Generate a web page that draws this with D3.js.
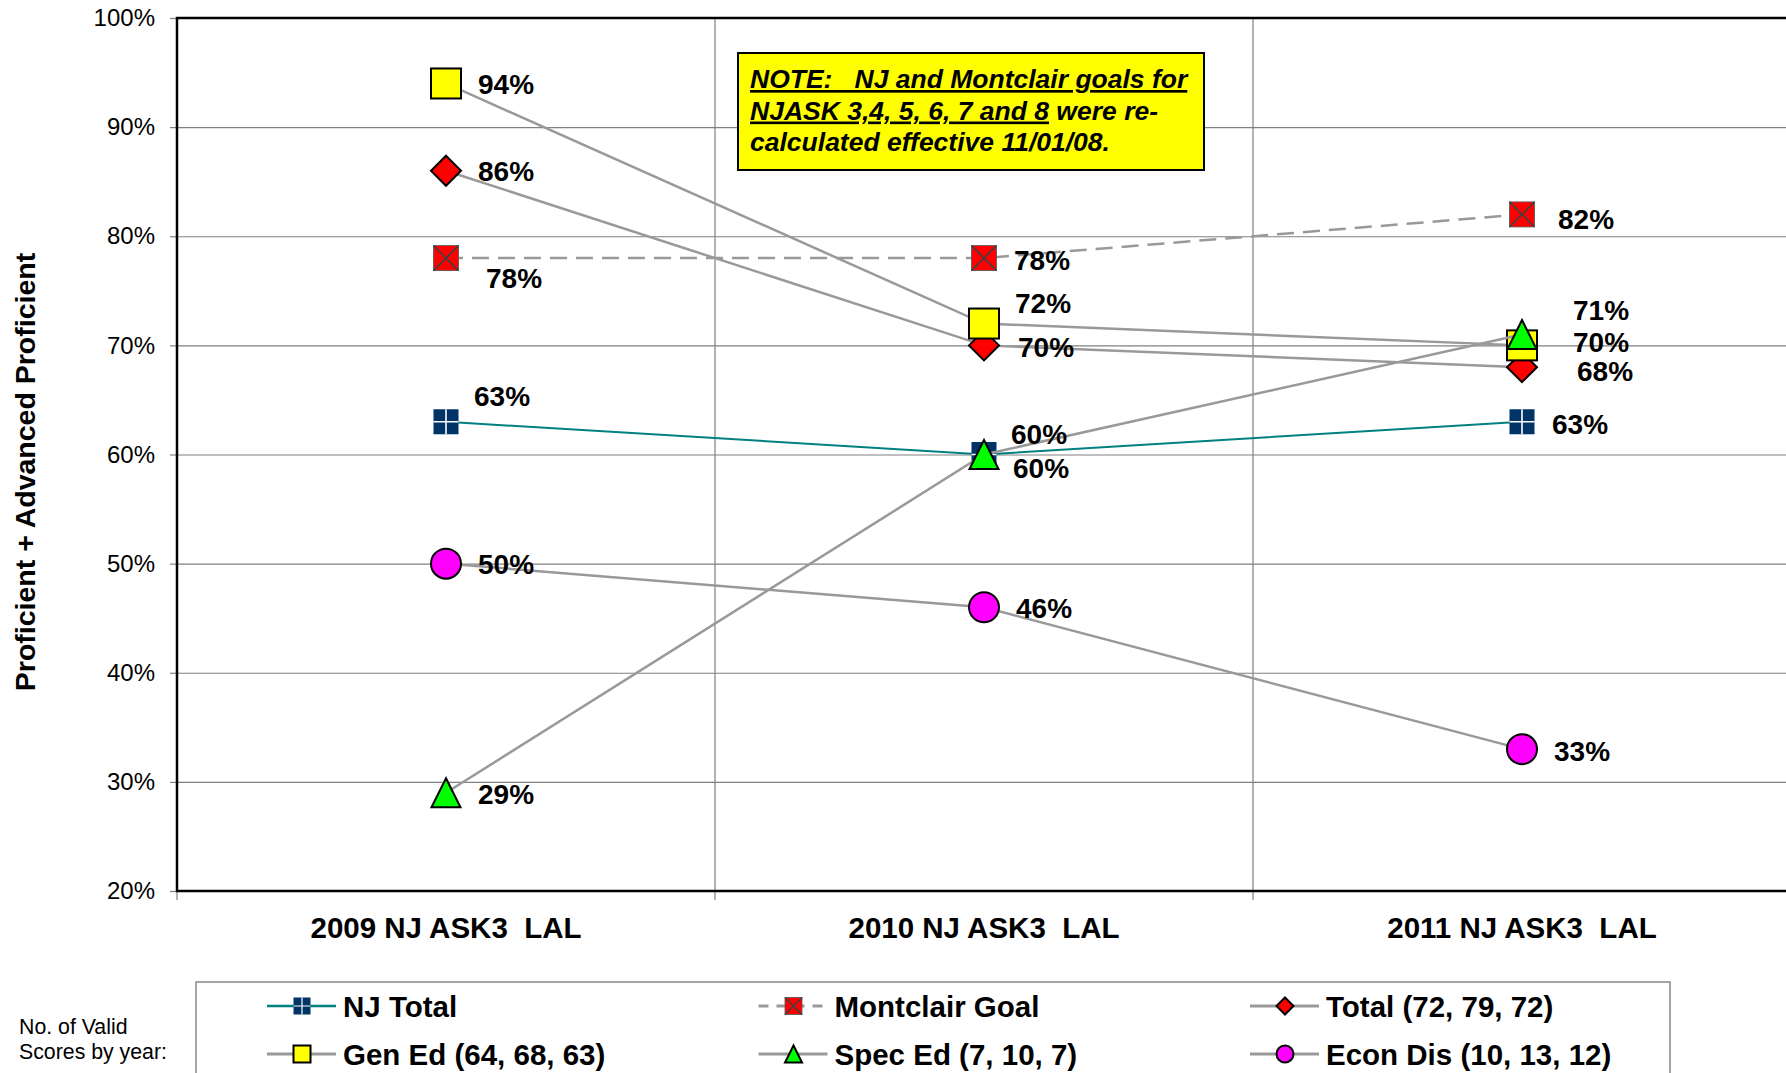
<!DOCTYPE html>
<html>
<head>
<meta charset="utf-8">
<style>
  body { margin: 0; background: #fff; }
  svg { display: block; font-family: Arial, "Liberation Sans", sans-serif; }
</style>
</head>
<body>
<div id="chart"></div>
<script src="https://d3js.org/d3.v7.min.js"></script>
<script>
// ---- data ----
var categories = ["2009 NJ ASK3  LAL", "2010 NJ ASK3  LAL", "2011 NJ ASK3  LAL"];
var njTotal       = [63, 60, 63];
var montclairGoal = [78, 78, 82];
var totalAll      = [86, 70, 68];
var genEd         = [94, 72, 70];
var specEd        = [29, 60, 71];
var econDis       = [50, 46, 33];
var seriesNames = ["NJ Total", "Montclair Goal", "Total (72, 79, 72)",
                   "Gen Ed (64, 68, 63)", "Spec Ed (7, 10, 7)", "Econ Dis (10, 13, 12)"];
var yTicks = [20, 30, 40, 50, 60, 70, 80, 90, 100];

// ---- look of each series (order = draw order) ----
var styles = [
  {line: "#008080", lw: 2,   dash: null,    marker: "plusSquare", fill: "#003366", size: 25},
  {line: "#999999", lw: 2.5, dash: "17,9",  marker: "xSquare",    fill: "#ff0000", size: 25},
  {line: "#999999", lw: 2.5, dash: null,    marker: "diamond",    fill: "#ff0000", size: 30},
  {line: "#999999", lw: 2.5, dash: null,    marker: "square",     fill: "#ffff00", size: 30},
  {line: "#999999", lw: 2.5, dash: null,    marker: "triangle",   fill: "#00ff00", size: 29},
  {line: "#999999", lw: 2.5, dash: null,    marker: "circle",     fill: "#ff00ff", size: 30}
];
// where each value label sits relative to its marker (dx, dy)
var labelOffsets = [
  [[28, -26], [27, -20], [30, 2]],
  [[40, 20],  [30, 2],   [36, 5]],
  [[32, 0],   [34, 2],   [55, 4]],
  [[32, 1],   [31, -20], [51, -3]],
  [[32, 1],   [29, 14],  [51, -24]],
  [[32, 1],   [32, 1],   [32, 2]]
];

var seriesValues = [njTotal, montclairGoal, totalAll, genEd, specEd, econDis];
var series = seriesNames.map(function(n, i) {
  return {name: n, values: seriesValues[i], style: styles[i], offs: labelOffsets[i]};
});

var W = 1786, H = 1073;
var plot = {left: 177, top: 18, bottom: 891};

var svg = d3.select("#chart").append("svg")
    .attr("width", W).attr("height", H);

var x = d3.scaleBand().domain(categories).range([plot.left, plot.left + 3 * 538]);
var y = d3.scaleLinear().domain([20, 100]).range([plot.bottom, plot.top]);
var cx = function(c) { return x(c) + x.bandwidth() / 2; };

// gridlines
svg.append("g")
    .attr("transform", "translate(" + plot.left + ",0)")
    .call(d3.axisLeft(y).tickValues(yTicks).tickSize(-(W - plot.left)).tickFormat(""))
    .call(function(g) {
      g.select(".domain").remove();
      g.selectAll("line").attr("stroke", "#808080").attr("stroke-width", 1.2);
    });

// vertical category separators + ticks below axis
var seps = categories.map(function(c) { return x(c); });
svg.append("g").selectAll("line").data(seps.slice(1)).enter().append("line")
    .attr("x1", function(d) { return d; }).attr("x2", function(d) { return d; })
    .attr("y1", plot.top).attr("y2", plot.bottom + 9)
    .attr("stroke", "#808080").attr("stroke-width", 1.2);
svg.append("line")
    .attr("x1", plot.left).attr("x2", plot.left)
    .attr("y1", plot.bottom).attr("y2", plot.bottom + 9)
    .attr("stroke", "#808080").attr("stroke-width", 1.2);

// y axis with labels
svg.append("g")
    .attr("transform", "translate(" + plot.left + ",0)")
    .call(d3.axisLeft(y).tickValues(yTicks).tickSize(7).tickPadding(15)
          .tickFormat(function(d) { return d + "%"; }))
    .call(function(g) {
      g.select(".domain").remove();
      g.selectAll("line").attr("stroke", "#808080").attr("stroke-width", 1.2);
      g.selectAll("text").attr("font-size", 24).attr("fill", "#000")
        .attr("font-family", "Arial, 'Liberation Sans', sans-serif");
    });

// black plot border (top, left, bottom)
svg.append("path")
    .attr("d", "M" + W + "," + plot.top + "H" + plot.left + "V" + plot.bottom + "H" + W)
    .attr("fill", "none").attr("stroke", "#000").attr("stroke-width", 2.5);

// category labels
svg.append("g").selectAll("text").data(categories).enter().append("text")
    .attr("x", cx).attr("y", 938)
    .attr("text-anchor", "middle")
    .attr("font-size", 29.5).attr("font-weight", "bold")
    .style("white-space", "pre")
    .text(function(d) { return d; });

// y title
svg.append("text")
    .attr("transform", "translate(35,472) rotate(-90)")
    .attr("text-anchor", "middle")
    .attr("font-size", 28.5).attr("font-weight", "bold")
    .text("Proficient + Advanced Proficient");

// note box
var note = svg.append("g");
note.append("rect")
    .attr("x", 738).attr("y", 53).attr("width", 466).attr("height", 117)
    .attr("fill", "#ffff00").attr("stroke", "#000").attr("stroke-width", 2);
var noteLines = [
  [{t: "NOTE:   NJ and Montclair goals for", u: true}],
  [{t: "NJASK 3,4, 5, 6, 7 and 8", u: true}, {t: " were re-", u: false}],
  [{t: "calculated effective 11/01/08.", u: false}]
];
noteLines.forEach(function(parts, i) {
  var t = note.append("text")
      .attr("x", 750).attr("y", 88 + i * 31.5)
      .attr("font-size", 26.5).attr("font-weight", "bold").attr("font-style", "italic")
      .attr("xml:space", "preserve").style("white-space", "pre");
  parts.forEach(function(p) {
    t.append("tspan").text(p.t)
      .style("text-decoration", p.u ? "underline" : "none");
  });
});

// marker drawing
function drawMarker(g, st, s) {
  var h = s / 2;
  if (st.marker === "plusSquare") {
    g.append("rect").attr("x", -h).attr("y", -h).attr("width", s).attr("height", s).attr("fill", st.fill);
    g.append("path").attr("d", "M0," + (-h) + "V" + h + "M" + (-h) + ",0H" + h)
      .attr("stroke", "#fff").attr("stroke-width", s > 20 ? 1.6 : 1.2);
  } else if (st.marker === "xSquare") {
    g.append("rect").attr("x", -h).attr("y", -h).attr("width", s).attr("height", s)
      .attr("fill", st.fill).attr("stroke", "#555").attr("stroke-width", 0.8);
    g.append("path").attr("d", "M" + (-h) + "," + (-h) + "L" + h + "," + h + "M" + h + "," + (-h) + "L" + (-h) + "," + h)
      .attr("stroke", "#404040").attr("stroke-width", 1.6);
  } else if (st.marker === "diamond") {
    g.append("path").attr("d", "M0," + (-h) + "L" + h + ",0L0," + h + "L" + (-h) + ",0Z")
      .attr("fill", st.fill).attr("stroke", "#000").attr("stroke-width", 2);
  } else if (st.marker === "square") {
    g.append("rect").attr("x", -h).attr("y", -h).attr("width", s).attr("height", s)
      .attr("fill", st.fill).attr("stroke", "#000").attr("stroke-width", 2);
  } else if (st.marker === "triangle") {
    g.append("path").attr("d", "M0," + (-h) + "L" + h + "," + h + "L" + (-h) + "," + h + "Z")
      .attr("fill", st.fill).attr("stroke", "#000").attr("stroke-width", 2);
  } else if (st.marker === "circle") {
    g.append("circle").attr("r", h)
      .attr("fill", st.fill).attr("stroke", "#000").attr("stroke-width", 2);
  }
}

var line = d3.line()
    .x(function(d, i) { return cx(categories[i]); })
    .y(function(d) { return y(d); });

// series: line then markers, in legend order
series.forEach(function(s) {
  var g = svg.append("g");
  g.append("path").datum(s.values)
    .attr("d", line)
    .attr("fill", "none")
    .attr("stroke", s.style.line)
    .attr("stroke-width", s.style.lw)
    .attr("stroke-dasharray", s.style.dash);
  s.values.forEach(function(v, i) {
    var m = g.append("g").attr("transform", "translate(" + cx(categories[i]) + "," + y(v) + ")");
    drawMarker(m, s.style, s.style.size);
  });
});

// value labels on top
series.forEach(function(s) {
  svg.append("g").selectAll("text").data(s.values).enter().append("text")
    .attr("x", function(d, i) { return cx(categories[i]) + s.offs[i][0]; })
    .attr("y", function(d, i) { return y(d) + s.offs[i][1]; })
    .attr("dy", "0.35em")
    .attr("font-size", 28).attr("font-weight", "bold")
    .text(function(d) { return d + "%"; });
});

// legend
svg.append("rect")
    .attr("x", 196).attr("y", 982).attr("width", 1474).attr("height", 120)
    .attr("fill", "#fff").attr("stroke", "#888").attr("stroke-width", 1.5);

var legend = svg.append("g").selectAll("g").data(series).enter().append("g")
    .attr("transform", function(d, i) {
      return "translate(" + (267 + (i % 3) * 491.5) + "," + (i < 3 ? 1006 : 1054) + ")";
    });
legend.append("line")
    .attr("x1", 0).attr("x2", 69)
    .attr("stroke", function(d) { return d.style.line; })
    .attr("stroke-width", function(d) { return d.style.lw + 0.5; })
    .attr("stroke-dasharray", function(d) { return d.style.dash ? "10,8" : null; });
legend.each(function(d) {
  var m = d3.select(this).append("g").attr("transform", "translate(35,0)");
  drawMarker(m, d.style, 17);
});
legend.append("text")
    .attr("x", 76).attr("dy", "0.36em")
    .attr("font-size", 29.5).attr("font-weight", "bold")
    .text(function(d) { return d.name; });

// side note
svg.append("text").attr("x", 19).attr("y", 1034).attr("font-size", 21.3).text("No. of Valid");
svg.append("text").attr("x", 19).attr("y", 1059).attr("font-size", 21.3).text("Scores by year:");
</script>
</body>
</html>
